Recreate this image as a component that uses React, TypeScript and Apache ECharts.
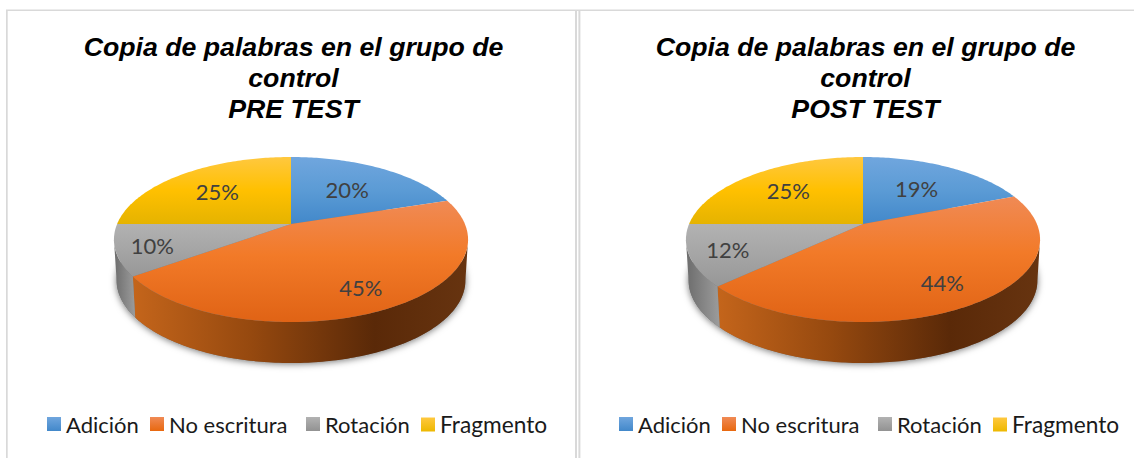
import React, { useEffect, useRef } from "react";
import * as echarts from "echarts";

const categories = ["Adición", "No escritura", "Rotación", "Fragmento"];
const preTestValues = [20, 45, 10, 25];
const postTestValues = [19, 44, 12, 25];
const chartTitles = [
  "Copia de palabras en el grupo de\ncontrol\nPRE TEST",
  "Copia de palabras en el grupo de\ncontrol\nPOST TEST",
];

const W = 1134;
const H = 458;
const CX = [291, 863];
const CY = 224;
const A = 173.9;
const B = 79.6;
const K = 0.188;
const DEPTH = 41;
const LOWER_SCALE = 0.985;
const LABEL_R = [
  [0.6, 0.77, 0.8, 0.65],
  [0.6, 0.75, 0.79, 0.66],
];
const LEGEND_LEFT = [47, 150, 306, 421];
const LEGEND_SHIFT = [0, 572];

const vGrad = (stops: [number, string][]) => ({
  type: "linear", x: 0, y: 0, x2: 0, y2: 1,
  colorStops: stops.map(([offset, color]) => ({ offset, color })),
});
const hGrad = (stops: [number, string][]) => ({
  type: "linear", x: 0, y: 0, x2: 1, y2: 0,
  colorStops: stops.map(([offset, color]) => ({ offset, color })),
});

const TOP_FILL = [
  vGrad([[0, "#70A6DE"], [0.5, "#5B9BD5"], [1, "#4288CA"]]),
  vGrad([[0, "#F08A55"], [0.45, "#F27A28"], [1, "#E06315"]]),
  vGrad([[0, "#B2B2B2"], [0.5, "#A5A5A5"], [1, "#979797"]]),
  vGrad([[0, "#FFC83F"], [0.5, "#FFC000"], [1, "#E5B300"]]),
];
const LEGEND_FILL = [
  vGrad([[0, "#70A6DE"], [1, "#4288CA"]]),
  vGrad([[0, "#F08A55"], [1, "#E8680F"]]),
  vGrad([[0, "#B2B2B2"], [1, "#929292"]]),
  vGrad([[0, "#FFC83F"], [1, "#EDB800"]]),
];
const SIDE_FILL = [
  "#3A6A99",
  hGrad([[0, "#C4651B"], [0.35, "#96490F"], [0.72, "#5A2908"], [1, "#673410"]]),
  hGrad([[0, "#6C6C6C"], [1, "#9C9C9C"]]),
  "#8F7000",
];

// perspective projection of a point of the unit disc; angle in radians, clockwise from the top
const project = (cx: number, r: number, angle: number): [number, number] => {
  const u = r * Math.sin(angle);
  const v = r * Math.cos(angle);
  const w = 1 + K * v;
  return [cx + (A * u) / w, CY - (B * v) / w];
};

const arcPoints = (cx: number, from: number, to: number, dy = 0, sx = 1): number[][] => {
  const n = Math.max(2, Math.ceil(((to - from) * 180) / Math.PI));
  const pts: number[][] = [];
  for (let i = 0; i <= n; i++) {
    const [x, y] = project(cx, 1, from + ((to - from) * i) / n);
    pts.push([cx + (x - cx) * sx, y + dy]);
  }
  return pts;
};

const SIDE_FROM = Math.acos(-K);
const SIDE_TO = 2 * Math.PI - SIDE_FROM;

const makeSeries = (values: number[], chart: number) => {
  const total = values.reduce((a, b) => a + b, 0);
  const cx = CX[chart];
  const shadow = {
    type: "custom",
    name: "sombra" + chart,
    coordinateSystem: "none",
    silent: true,
    z: 1,
    data: [[1]],
    renderItem: () => ({
      type: "polygon",
      shape: { points: arcPoints(cx, 0, 2 * Math.PI, DEPTH, LOWER_SCALE) },
      style: {
        fill: "#777777",
        shadowBlur: 7,
        shadowColor: "rgba(0,0,0,0.55)",
        shadowOffsetY: 1,
      },
    }),
  };
  let cum = 0;
  const slices = values.map((value, i) => {
    const start = (cum / total) * 2 * Math.PI;
    cum += value;
    const end = (cum / total) * 2 * Math.PI;
    return {
      type: "custom",
      name: categories[i],
      coordinateSystem: "none",
      silent: true,
      z: 2,
      itemStyle: { color: LEGEND_FILL[i] },
      data: [[value]],
      renderItem: (_p: any, api: any) => {
        const v = api.value(0) as number;
        const children: any[] = [];
        const a = Math.max(start, SIDE_FROM);
        const b = Math.min(end, SIDE_TO);
        if (b > a) {
          children.push({
            type: "polygon",
            shape: {
              points: [...arcPoints(cx, a, b), ...arcPoints(cx, a, b, DEPTH, LOWER_SCALE).reverse()],
            },
            style: { fill: SIDE_FILL[i] },
          });
        }
        children.push({
          type: "polygon",
          shape: { points: [project(cx, 0, 0), ...arcPoints(cx, start, end)] },
          style: { fill: TOP_FILL[i] },
        });
        const [lx, ly] = project(cx, LABEL_R[chart][i], (start + end) / 2);
        children.push({
          type: "text",
          z2: 10,
          style: {
            text: `${v}%`,
            x: lx,
            y: ly + 1,
            align: "center",
            verticalAlign: "middle",
            fontFamily: "Lato",
            fontSize: 22,
            fill: "#404040",
          },
        });
        return { type: "group", children };
      },
    };
  });
  return [shadow, ...slices];
};

const BORDER = "#D9D9D9";
const frame = [
  [6, 10, 1.7, H - 10],
  [6, 9.6, W - 6, 1.4],
  [575, 10, 2, H - 10],
  [578.4, 10, 2, H - 10],
].map(([x, y, width, height]) => ({
  type: "rect",
  silent: true,
  shape: { x, y, width, height },
  style: { fill: BORDER },
}));

export default function App() {
  const ref = useRef<HTMLDivElement>(null);
  useEffect(() => {
    document.body.style.margin = "0";
    const chart = echarts.init(ref.current!, null, { renderer: "svg" });
    const legends = LEGEND_SHIFT.flatMap((shift) =>
      categories.map((name, i) => ({
        top: 413,
        left: LEGEND_LEFT[i] + shift,
        orient: "horizontal",
        itemWidth: 14,
        itemHeight: 14,
        padding: 0,
        selectedMode: false,
        icon: "rect",
        textStyle: {
          fontFamily: "Lato",
          fontSize: i === 3 ? 22.7 : 22,
          color: "#1A1A1A",
        },
        data: [{ name, itemStyle: { color: LEGEND_FILL[i] } }],
      }))
    );
    chart.setOption({
      animation: false,
      backgroundColor: "#FFFFFF",
      title: chartTitles.map((text, i) => ({
        text,
        left: [293.5, 865.5][i],
        top: 31,
        textAlign: "center",
        padding: 0,
        textStyle: {
          fontFamily: "Liberation Sans",
          fontStyle: "italic",
          fontWeight: "bold",
          fontSize: 26.7,
          lineHeight: 31,
          color: "#000000",
        },
      })),
      legend: legends,
      graphic: frame,
      series: [...makeSeries(preTestValues, 0), ...makeSeries(postTestValues, 1)],
    });
    return () => chart.dispose();
  }, []);
  return <div ref={ref} style={{ position: "absolute", left: 0, top: 0, width: W, height: H }} />;
}
